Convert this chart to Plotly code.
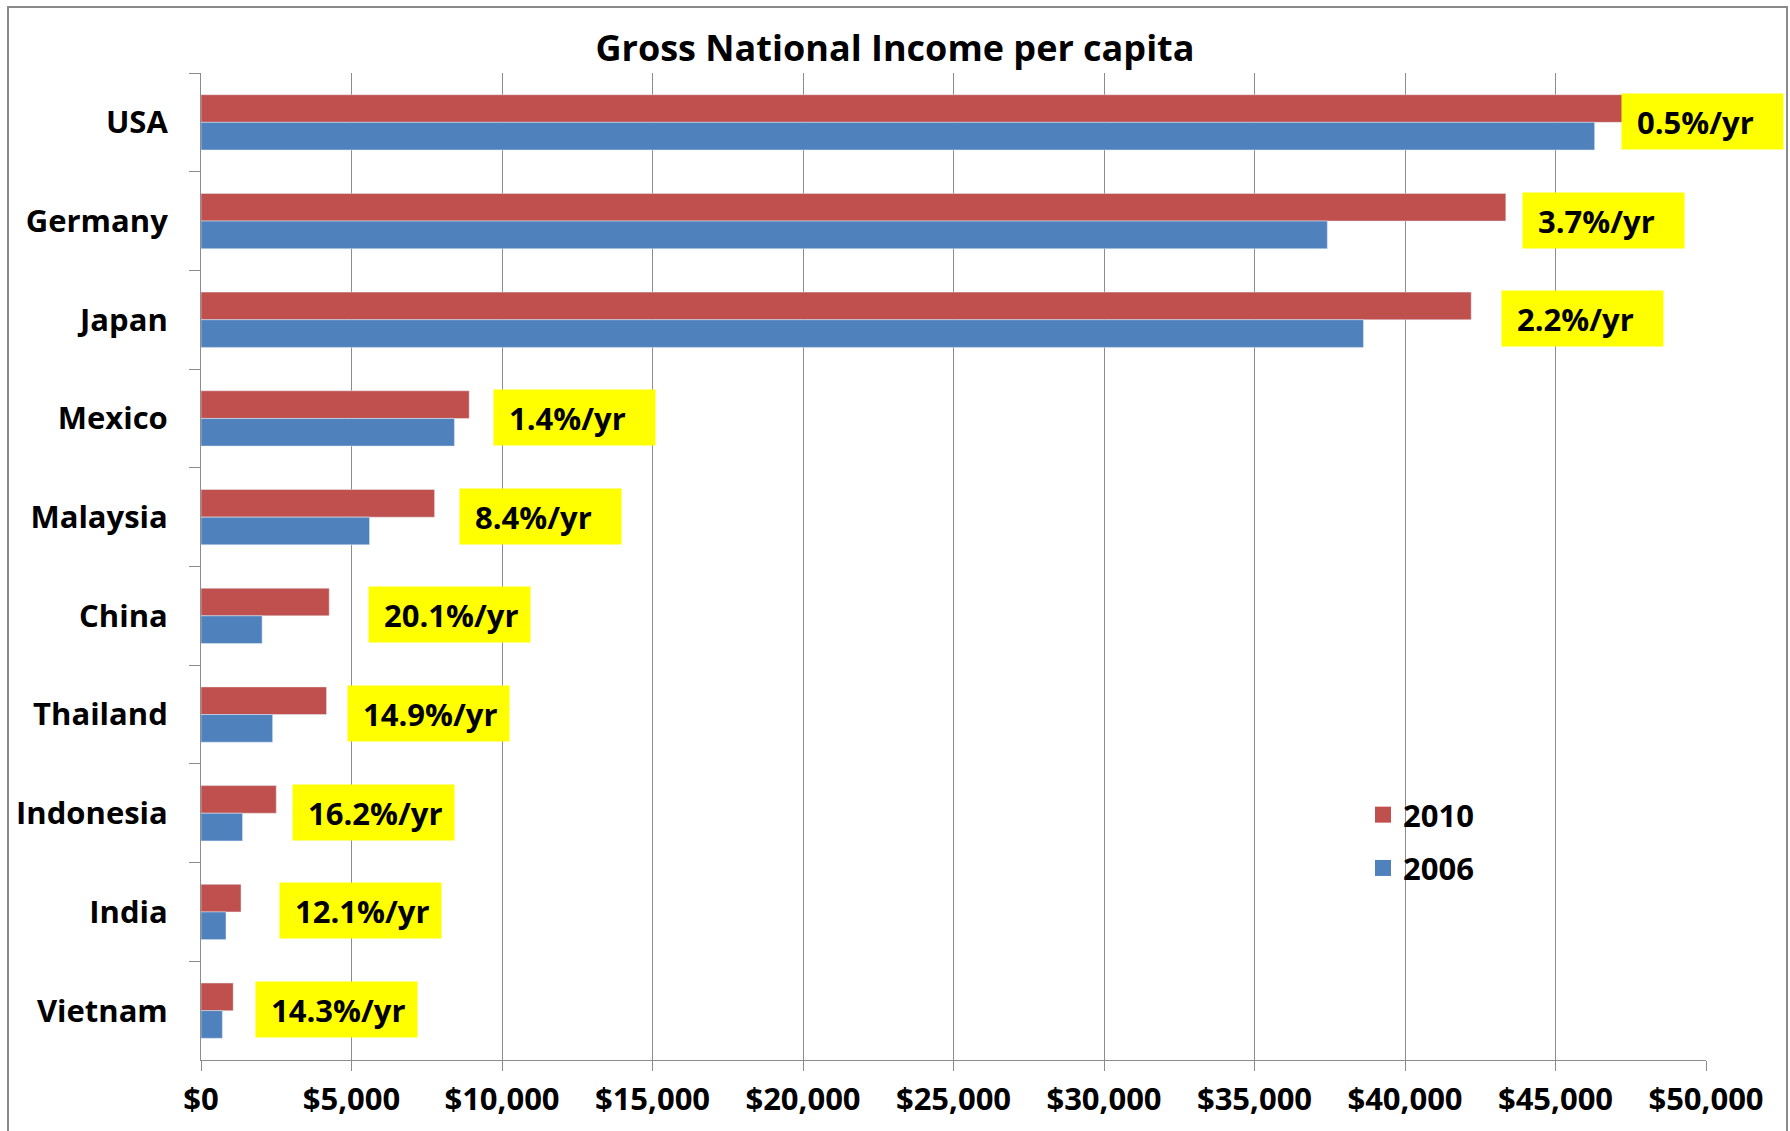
import plotly.graph_objects as go

# ---- data ----
countries = ["USA", "Germany", "Japan", "Mexico", "Malaysia",
             "China", "Thailand", "Indonesia", "India", "Vietnam"]
gni_2010 = [47300, 43350, 42200, 8910, 7760, 4260, 4170, 2500, 1330, 1070]
gni_2006 = [46300, 37420, 38620, 8420, 5600, 2030, 2380, 1380, 830, 710]
growth_labels = ["0.5%/yr", "3.7%/yr", "2.2%/yr", "1.4%/yr", "8.4%/yr",
                 "20.1%/yr", "14.9%/yr", "16.2%/yr", "12.1%/yr", "14.3%/yr"]
x_tick_values = [0, 5000, 10000, 15000, 20000, 25000, 30000, 35000, 40000, 45000, 50000]
x_tick_labels = ["$0", "$5,000", "$10,000", "$15,000", "$20,000", "$25,000",
                 "$30,000", "$35,000", "$40,000", "$45,000", "$50,000"]
series_names = ["2010", "2006"]

# ---- styling (not data) ----
RED = "#C0504D"
BLUE = "#4F81BD"
GRID = "#8C8C8C"
FONT = "Open Sans"
label_gap_px = [-4, 16, 30, 24, 24, 39, 20, 16, 38, 22]

W, H = 1790, 1131
ML, MR, MT, MB = 201, 1790 - 1706, 73, 1131 - 1060
PW, PH = W - ML - MR, H - MT - MB

fig = go.Figure()
fig.add_trace(go.Bar(y=countries, x=gni_2010, orientation="h", name=series_names[0],
                     marker=dict(color=RED), showlegend=False))
fig.add_trace(go.Bar(y=countries, x=gni_2006, orientation="h", name=series_names[1],
                     marker=dict(color=BLUE), showlegend=False))
# legend entries (larger square swatches)
for nm, col in zip(series_names, [RED, BLUE]):
    fig.add_trace(go.Scatter(x=[None], y=[None], mode="markers", name=nm,
                             legendgroup=nm,
                             marker=dict(symbol="square", size=18, color=col)))

for c, a, b, lab, gap in zip(countries, gni_2010, gni_2006, growth_labels, label_gap_px):
    fig.add_annotation(x=max(a, b), y=c, xref="x", yref="y", text="\u00a0" + lab,
                       showarrow=False, xanchor="left", yanchor="middle", xshift=gap,
                       yshift=1,
                       align="left", bgcolor="#FFFF00", borderpad=7, width=147, height=41,
                       font=dict(family=FONT, size=31, color="black", weight="bold"))

# outer border
fig.add_shape(type="rect", xref="paper", yref="paper",
              x0=(8 - ML) / PW, x1=(1787 - ML) / PW,
              y0=(H - MB - 1145) / PH, y1=(H - MB - 7) / PH,
              line=dict(color="#8A8A8A", width=2), fillcolor="rgba(0,0,0,0)", layer="below")

fig.update_layout(
    width=W, height=H,
    margin=dict(l=ML, r=MR, t=MT, b=MB, pad=0, autoexpand=False),
    paper_bgcolor="white", plot_bgcolor="white",
    barmode="group", bargap=0.44, bargroupgap=0,
    title=dict(text="Gross National Income per capita", x=0.5, xref="container",
               y=1 - 48 / H, yref="container", xanchor="center", yanchor="middle",
               automargin=False,
               font=dict(family=FONT, size=36, color="black", weight="bold")),
    font=dict(family=FONT, color="black"),
    legend=dict(x=(1363 - ML) / PW, y=(H - MB - 788) / PH, xanchor="left", yanchor="top",
                bgcolor="rgba(0,0,0,0)", traceorder="grouped", tracegroupgap=10,
                font=dict(family=FONT, size=31, color="black", weight="bold")),
    showlegend=True,
)
fig.update_xaxes(range=[0, 50000], tickmode="array", tickvals=x_tick_values,
                 ticktext=x_tick_labels, automargin=False,
                 showgrid=True, gridcolor=GRID, gridwidth=1, zeroline=False,
                 showline=True, linecolor=GRID, linewidth=1,
                 ticks="outside", ticklen=10, tickcolor=GRID, ticklabelstandoff=2,
                 tickfont=dict(family=FONT, size=31, color="black", weight="bold"))
fig.update_yaxes(type="category", categoryorder="array", categoryarray=countries,
                 autorange="reversed", showgrid=False, zeroline=False, automargin=False,
                 showline=True, linecolor=GRID, linewidth=1,
                 ticks="outside", ticklen=11, tickcolor=GRID, tickson="boundaries",
                 ticklabelstandoff=26,
                 tickfont=dict(family=FONT, size=31, color="black", weight="bold"))

fig.write_html("out.html", config={"displayModeBar": False},
               post_script="document.body.style.margin='0';document.body.style.overflow='hidden';")
